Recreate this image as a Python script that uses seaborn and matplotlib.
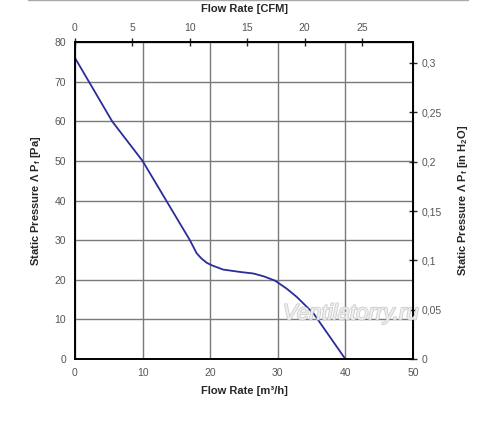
import numpy as np
import matplotlib
matplotlib.use("Agg")
import matplotlib.pyplot as plt
import matplotlib.patheffects as pe
from matplotlib.ticker import FuncFormatter
import seaborn as sns
import pandas as pd

# fan curve
flow_m3h = [0, 5.5, 10, 13.5, 17, 18.0, 18.7, 19.5, 20.2, 21.9, 24.4, 26.4, 27.9,
            29.6, 31.3, 32.8, 35.3, 40]
pressure_pa = [76, 60, 50, 40, 30, 26.7, 25.4, 24.3, 23.7, 22.6, 22.0, 21.6, 20.9,
               19.8, 17.8, 15.7, 11.5, 0]

cfm_ticks = [0, 5, 10, 15, 20, 25]
inh2o_ticks = [0, 0.05, 0.1, 0.15, 0.2, 0.25, 0.3]
M3H_PER_CFM = 1.699
PA_PER_INH2O = 249.09

sns.set_style("white")
plt.rcParams['font.family'] = ['Liberation Sans', 'DejaVu Sans']

df = pd.DataFrame({'flow': flow_m3h, 'p': pressure_pa})

fig = plt.figure(figsize=(5, 4.21), dpi=100)
ax = fig.add_axes([0.15, 0.147, 0.676, 0.753])

sns.lineplot(data=df, x='flow', y='p', ax=ax, color='#2b2b9c', linewidth=1.3)

ax.set_xlim(0, 50)
ax.set_ylim(0, 80)
ax.set_xticks(np.arange(0, 51, 10))
ax.set_yticks(np.arange(0, 81, 10))
ax.grid(True, color='#7a7a7a', linewidth=1)
for s in ax.spines.values():
    s.set_color('black')
    s.set_linewidth(1.4)
tick_gray = '#555555'
ax.tick_params(direction='inout', length=6, width=1, colors='black',
               labelcolor=tick_gray, labelsize=7.5)

ax.set_xlabel('Flow Rate [m³/h]', fontsize=8, fontweight='bold', labelpad=6)
ax.set_ylabel(r'Static Pressure Λ P$_{\mathregular{f}}$ [Pa]', fontsize=8,
              fontweight='bold', labelpad=8)

top = ax.secondary_xaxis('top', functions=(lambda x: x / M3H_PER_CFM,
                                           lambda x: x * M3H_PER_CFM))
top.set_xticks(cfm_ticks)
top.tick_params(direction='inout', length=6, width=1, labelcolor=tick_gray, labelsize=7.5)
top.set_xlabel('Flow Rate [CFM]', fontsize=8, fontweight='bold', labelpad=8)

right = ax.secondary_yaxis('right', functions=(lambda y: y / PA_PER_INH2O,
                                               lambda y: y * PA_PER_INH2O))
right.set_yticks(inh2o_ticks)
right.yaxis.set_major_formatter(FuncFormatter(lambda v, p: f'{v:g}'.replace('.', ',')))
right.tick_params(direction='inout', length=6, width=1, labelcolor=tick_gray, labelsize=7.5)
right.set_ylabel(r'Static Pressure Λ P$_{\mathregular{f}}$ [in H$_{\mathregular{2}}$O]',
                 fontsize=8, fontweight='bold', labelpad=10)

# watermark
wm = ax.text(0.615, 0.125, 'Ventilatorry.ru', transform=ax.transAxes, fontsize=16,
             style='italic', color='#f2f2f2', alpha=0.9, zorder=5)
wm.set_path_effects([pe.withStroke(linewidth=1.2, foreground='#c8c8c8')])

# thin frame line along the top edge
fig.add_artist(plt.Line2D([0.056, 0.936], [0.999, 0.999], transform=fig.transFigure,
                          color='#aaaaaa', linewidth=1))

fig.savefig('out.png', dpi=100, facecolor='white')
